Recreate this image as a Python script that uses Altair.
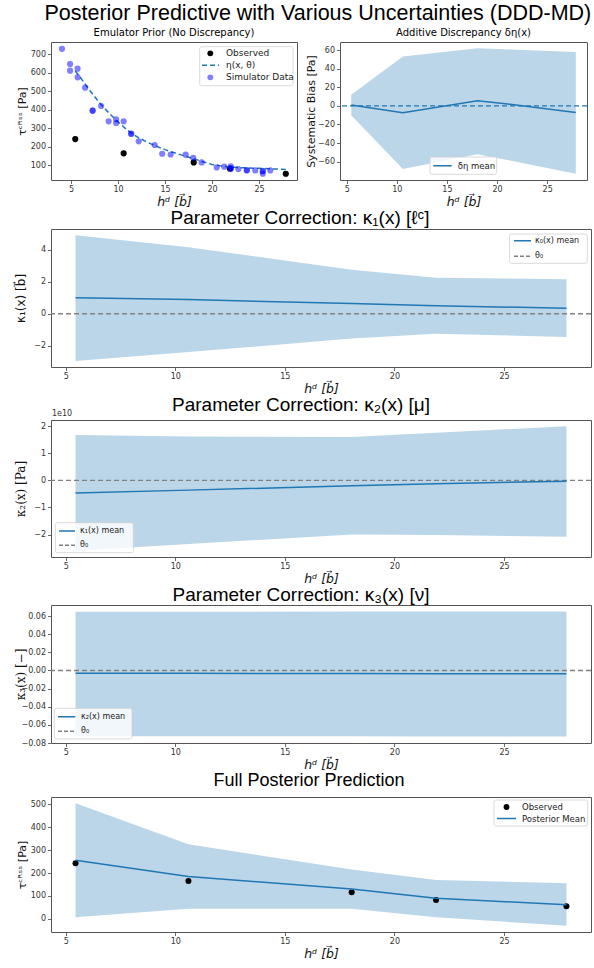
import altair as alt
import pandas as pd

# ---------------- data ----------------
obs_x = [5.45, 10.6, 18.05, 21.9, 27.85]
obs_y = [242, 165, 116, 83, 55]

sim_x = [4.04, 4.9, 4.9, 5.7, 5.7, 6.5, 7.3, 7.3, 8.2, 9.0, 9.8, 9.8, 10.6, 11.4, 11.4,
         12.2, 13.9, 14.7, 15.6, 17.2, 18.0, 18.9, 20.5, 21.3, 22.0, 22.0, 22.0, 22.8,
         23.7, 23.7, 24.6, 25.4, 25.4, 25.4, 26.2]
sim_y = [730, 648, 612, 623, 576, 520, 397, 395, 421, 338, 349, 329, 338, 272, 270,
         230, 210, 163, 159, 158, 141, 116, 89, 93, 95, 85, 80, 80,
         75, 72, 73, 70, 68, 55, 73]

eta_x = [5.45, 6, 7, 8, 9, 10, 11, 12, 13, 14, 15, 16, 17, 18, 19, 20, 21, 22, 23, 24,
         25, 26, 27, 27.85]
eta_y = [610, 575, 505, 440, 385, 335, 290, 255, 228, 205, 185, 168, 152, 137, 120, 105,
         96, 91, 88, 86, 84, 82, 80, 78]

delta_lo = [-10, -68, -52, -60, -73]
delta_hi = [12, 53, 62, 60.5, 58]
delta_mean = [1, -7.5, 5.5, 1.0, -7]

k1_lo = [-2.95, -2.4, -1.55, -1.25, -1.45]
k1_hi = [4.9, 4.15, 2.75, 2.25, 2.15]
k1_mean = [1.0, 0.88, 0.63, 0.5, 0.34]

k2_lo = [-2.6e10, -2.35e10, -2.0e10, -2.02e10, -2.08e10]
k2_hi = [1.68e10, 1.62e10, 1.6e10, 1.76e10, 2.0e10]
k2_mean = [-0.47e10, -0.36e10, -0.2e10, -0.12e10, -0.03e10]

k3_lo = [-0.0725, -0.0726, -0.0726, -0.0727, -0.0728]
k3_hi = [0.0648, 0.0648, 0.0649, 0.0649, 0.065]
k3_mean = [-0.0030, -0.0032, -0.0034, -0.0035, -0.0036]

post_lo = [8, 45, 45, 8, -30]
post_hi = [503, 325, 215, 170, 155]
post_mean = [255, 185, 130, 90, 62]

x_ticks = [5, 10, 15, 20, 25]
p1_y_ticks = [100, 200, 300, 400, 500, 600, 700]
p2_y_ticks = [-60, -40, -20, 0, 20, 40, 60]
p3_y_ticks = [-2, 0, 2, 4]
p4_y_ticks = [-2e10, -1e10, 0, 1e10, 2e10]
p5_y_ticks = [-0.08, -0.06, -0.04, -0.02, 0.0, 0.02, 0.04, 0.06]
p6_y_ticks = [0, 100, 200, 300, 400, 500]

p1_x_domain = [2.87, 29.04]
x_domain = [4.33, 28.97]
p1_y_domain = [21, 767]
p2_y_domain = [-79.7, 68.7]
p3_y_domain = [-3.33, 5.29]
p4_y_domain = [-2.83e10, 2.23e10]
p5_y_domain = [-0.0800, 0.0722]
p6_y_domain = [-56.7, 530.7]

# ---------------- style ----------------
FONT = "DejaVu Sans"
SERIF = "DejaVu Serif"
TFONT = "Liberation Sans"
BLUE = "#1f77b4"
GRAY = "#808080"
XTITLE = "hᵈ [b⃗]"

W_BIG = 540
W_SMALL_1 = 246
W_SMALL_2 = 247


def xaxis():
    return alt.Axis(values=x_ticks, format="d", title=XTITLE, titleFont=FONT,
                    titleFontStyle="italic", titleFontSize=12.5, titlePadding=0,
                    minExtent=15, maxExtent=15, labelPadding=2, labelOverlap=False)


def yaxis(title, values, fmt, font=FONT, size=11, label_expr=None):
    kw = dict(title=title, values=values, format=fmt, titleFont=font, titleFontSize=size,
              titlePadding=2, minExtent=22, maxExtent=22, labelPadding=2,
              labelOverlap=False)
    if label_expr:
        kw["labelExpr"] = label_expr
    return alt.Axis(**kw)


ONE = alt.Data(values=[{"k": 1}])


def legend(box, items, fsize=8):
    x0, x1, y0, y1 = box
    layers = [alt.Chart(ONE).mark_rect(fill="white", fillOpacity=0.8, stroke="#cfcfcf",
                                       strokeWidth=0.8, cornerRadius=2).encode(
        x=alt.value(x0), x2=alt.value(x1), y=alt.value(y0), y2=alt.value(y1))]
    for it in items:
        if it["kind"] == "line":
            layers.append(alt.Chart(ONE).mark_rule(color=it["color"], strokeWidth=1.5,
                                                   strokeDash=it.get("dash", [1, 0])).encode(
                x=alt.value(it["sx"][0]), x2=alt.value(it["sx"][1]), y=alt.value(it["y"])))
        else:
            layers.append(alt.Chart(ONE).mark_circle(color=it["color"], opacity=it.get("op", 1),
                                                     size=34).encode(
                x=alt.value(it["sx"]), y=alt.value(it["y"])))
        layers.append(alt.Chart(ONE).mark_text(align="left", baseline="middle", font=FONT,
                                               fontSize=fsize, color="#222").encode(
            x=alt.value(it["tx"]), y=alt.value(it["y"]), text=alt.value(it["label"])))
    return layers


def sub_title(text, dx=0, size=19, font=TFONT, offset=4):
    return alt.TitleParams(text=text, font=font, fontSize=size, fontWeight="normal",
                           anchor="middle", frame="group", offset=offset, dx=dx, color="black")


# ---------------- panel 1 ----------------
obs_df = pd.DataFrame({"x": obs_x, "y": obs_y})
sim_df = pd.DataFrame({"x": sim_x, "y": sim_y})
eta_df = pd.DataFrame({"x": eta_x, "y": eta_y})

X1 = alt.X("x:Q", scale=alt.Scale(domain=p1_x_domain, nice=False, zero=False), axis=xaxis())
Y1 = alt.Y("y:Q", scale=alt.Scale(domain=p1_y_domain, nice=False, zero=False),
           axis=yaxis("τᶜᴿˢˢ [Pa]", p1_y_ticks, "d"))

p1_layers = [
    alt.Chart(obs_df).mark_circle(color="black", opacity=1, size=38).encode(X1, Y1),
    alt.Chart(eta_df).mark_line(color=BLUE, strokeDash=[5, 3], strokeWidth=1.5).encode(X1, Y1),
    alt.Chart(sim_df).mark_circle(color="blue", opacity=0.5, size=38).encode(X1, Y1),
] + legend((148.7, 242, 4.7, 43.7), [
    {"kind": "pt", "color": "black", "sx": 159.3, "y": 11.3, "tx": 175, "label": "Observed"},
    {"kind": "line", "color": BLUE, "dash": [5, 3], "sx": (151, 168), "y": 23.3, "tx": 175,
     "label": "η(x, θ)"},
    {"kind": "pt", "color": "blue", "op": 0.5, "sx": 159.3, "y": 35.3, "tx": 175,
     "label": "Simulator Data"},
], fsize=9)

p1 = alt.layer(*p1_layers).properties(
    width=W_SMALL_1, height=138,
    title=sub_title("Emulator Prior (No Discrepancy)", size=10, font=FONT, offset=4))


# ---------------- band panels (every layer uses fields x / y, like panel 1) ----------------
def band_panel(lo, hi, mean, ydom, yax, width, height, title, leg_layers,
               zero_color=GRAY, extra=None, points=False):
    band_df = pd.DataFrame({"x": obs_x, "y": lo, "y2": hi})
    mean_df = pd.DataFrame({"x": obs_x, "y": mean})
    zero_df = pd.DataFrame({"y": [0]})
    X = alt.X("x:Q", scale=alt.Scale(domain=x_domain, nice=False, zero=False), axis=xaxis())
    Y = alt.Y("y:Q", scale=alt.Scale(domain=ydom, nice=False, zero=False), axis=yax)
    layers = [alt.Chart(band_df).mark_area(color=BLUE, opacity=0.3).encode(X, Y, alt.Y2("y2:Q"))]
    if zero_color:
        layers.append(alt.Chart(zero_df).mark_rule(
            color=zero_color, strokeDash=[5, 3], strokeWidth=1.4).encode(Y))
    if points:
        layers.append(alt.Chart(obs_df).mark_circle(color="black", opacity=1, size=36).encode(X, Y))
    layers.append(alt.Chart(mean_df).mark_line(color=BLUE, strokeWidth=1.5).encode(X, Y))
    if extra:
        layers += extra()
    layers += leg_layers
    return alt.layer(*layers).properties(width=width, height=height, title=title)


p2 = band_panel(
    delta_lo, delta_hi, delta_mean, p2_y_domain,
    yaxis("Systematic Bias [Pa]", p2_y_ticks, "d"), W_SMALL_2, 138,
    sub_title("Additive Discrepancy δη(x)", size=10, font=FONT, offset=4),
    legend((90, 156.7, 115, 132.3), [
        {"kind": "line", "color": BLUE, "sx": (93.3, 111.7), "y": 123.7, "tx": 117.7,
         "label": "δη mean"}], fsize=8.5),
    zero_color=BLUE)

p3 = band_panel(
    k1_lo, k1_hi, k1_mean, p3_y_domain,
    yaxis("κ₁(x) [b⃗]", p3_y_ticks, "d", font=FONT, size=12), W_BIG, 138,
    sub_title("Parameter Correction: κ₁(x) [ℓᶜ]", dx=-21, offset=1),
    legend((458.6, 536.3, 5, 34.3), [
        {"kind": "line", "color": BLUE, "sx": (463, 480), "y": 11.7, "tx": 484,
         "label": "κ₀(x) mean"},
        {"kind": "line", "color": GRAY, "dash": [4, 2], "sx": (463, 480), "y": 27.3, "tx": 484,
         "label": "θ₀"}]))


def one_e10():
    return [alt.Chart(ONE).mark_text(align="left", baseline="middle", font=FONT, fontSize=8,
                                     color="#333").encode(
        x=alt.value(1), y=alt.value(-6), text=alt.value("1e10"))]


p4 = band_panel(
    k2_lo, k2_hi, k2_mean, p4_y_domain,
    yaxis("κ₂(x) [Pa]", p4_y_ticks, "d", font=SERIF, size=12,
          label_expr="format(datum.value / 1e10, 'd')"), W_BIG, 137,
    sub_title("Parameter Correction: κ₂(x) [μ]", dx=-20, offset=-5),
    legend((4.3, 82.4, 102.7, 132.7), [
        {"kind": "line", "color": BLUE, "sx": (8, 24), "y": 111, "tx": 29,
         "label": "κ₁(x) mean"},
        {"kind": "line", "color": GRAY, "dash": [4, 2], "sx": (8, 24), "y": 125.3, "tx": 29,
         "label": "θ₀"}]),
    extra=one_e10)

p5 = band_panel(
    k3_lo, k3_hi, k3_mean, p5_y_domain,
    yaxis("κ₃(x) [−]", p5_y_ticks, ".2f", font=SERIF, size=12), W_BIG, 138,
    sub_title("Parameter Correction: κ₃(x) [ν]", dx=-20, offset=0),
    legend((3.3, 81, 103.3, 134), [
        {"kind": "line", "color": BLUE, "sx": (7, 24.3), "y": 111.7, "tx": 30,
         "label": "κ₂(x) mean"},
        {"kind": "line", "color": GRAY, "dash": [4, 2], "sx": (7, 24.3), "y": 126.3, "tx": 30,
         "label": "θ₀"}]))

p6 = band_panel(
    post_lo, post_hi, post_mean, p6_y_domain,
    yaxis("τᶜᴿˢˢ [Pa]", p6_y_ticks, "d"), W_BIG, 135,
    sub_title("Full Posterior Prediction", size=18, dx=-12, offset=7),
    legend((443, 536.7, 3, 29), [
        {"kind": "pt", "color": "black", "sx": 455.5, "y": 10, "tx": 471, "label": "Observed"},
        {"kind": "line", "color": BLUE, "sx": (446, 465), "y": 21.5, "tx": 471,
         "label": "Posterior Mean"}], fsize=8.5),
    zero_color=None, points=True)

row1 = alt.hconcat(p1, p2, spacing=6)

chart = alt.vconcat(row1, p3, p4, p5, p6, spacing=0).properties(
    title=alt.TitleParams(
        text="Posterior Predictive with Various Uncertainties (DDD-MD)",
        font=TFONT, fontSize=21.5, fontWeight="normal", anchor="middle", offset=3, dx=15,
        color="black"),
    padding={"left": 13, "top": 3, "right": 0, "bottom": 0},
).configure_view(
    stroke="#555", strokeWidth=1
).configure_axis(
    grid=False, domain=False, labelFont=FONT, labelFontSize=8, labelColor="#333",
    tickColor="#444", tickSize=3.5, tickWidth=0.8, titleFontWeight="normal",
    titleColor="#111", labelOverlap=False
)

chart.save("out.html", embed_options={"renderer": "svg", "actions": False})
